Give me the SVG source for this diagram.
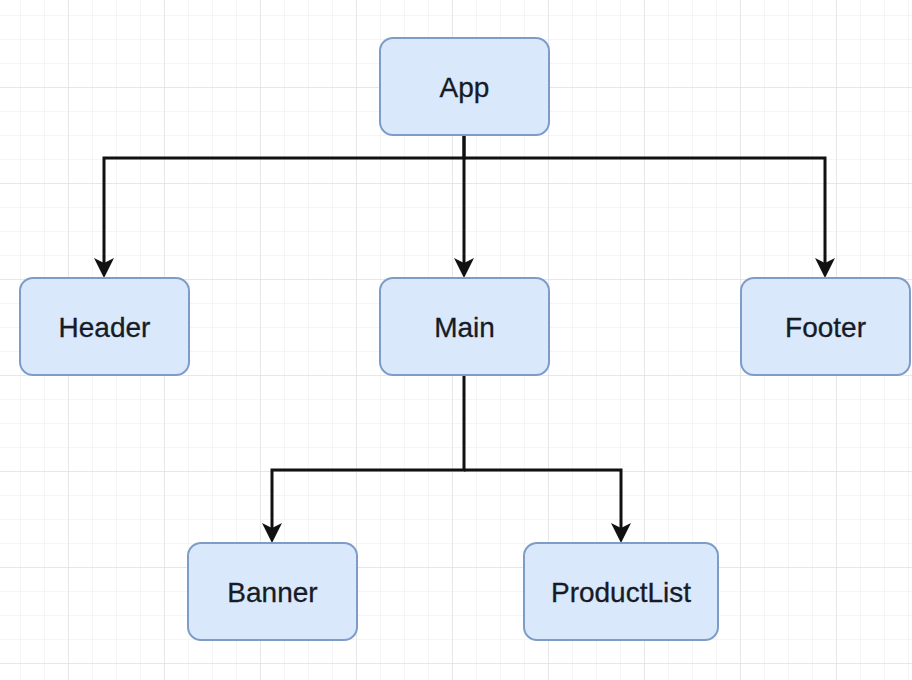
<svg xmlns="http://www.w3.org/2000/svg" width="912" height="680" viewBox="0 0 912 680">
  <defs>
    <pattern id="minor" x="20" y="15" width="24" height="24" patternUnits="userSpaceOnUse">
      <path d="M0,0 V24 M0,0 H24" fill="none" stroke="#f2f2f2" stroke-width="1.5"/>
    </pattern>
    <pattern id="major" x="68" y="87" width="96" height="96" patternUnits="userSpaceOnUse">
      <path d="M0,0 V96 M0,0 H96" fill="none" stroke="#e2e2e2" stroke-width="1.5"/>
    </pattern>
    <marker id="arrow" viewBox="0 0 20 20" markerWidth="20" markerHeight="20" markerUnits="userSpaceOnUse" refX="5" refY="10" orient="auto">
      <path d="M0,0 L20,10 L0,20 L5,10 z" fill="#111"/>
    </marker>
  </defs>
  <style>
    .box { fill: #dae8fc; stroke: #7e9cc8; stroke-width: 2; }
    .label { font-family: "Liberation Sans", Arial, sans-serif; font-size: 28px; fill: #161b26; stroke: #161b26; stroke-width: 0.3; text-anchor: middle; }
    .edge { fill: none; stroke: #111; stroke-width: 3; }
  </style>
  <rect width="912" height="680" fill="#ffffff"/>
  <rect width="912" height="680" fill="url(#minor)"/>
  <rect width="912" height="680" fill="url(#major)"/>

  <g id="connectors">
    <path class="edge" d="M464,136 V158 H104 V263" marker-end="url(#arrow)"/>
    <path class="edge" d="M464,136 V263" marker-end="url(#arrow)"/>
    <path class="edge" d="M464,158 H825 V263" marker-end="url(#arrow)"/>
    <path class="edge" d="M464,375 V470 H272 V528" marker-end="url(#arrow)"/>
    <path class="edge" d="M464,470 H621 V528" marker-end="url(#arrow)"/>
  </g>

  <g id="app">
    <rect class="box" x="380" y="38" width="169" height="97" rx="13"/>
    <text class="label" x="464.5" y="97">App</text>
  </g>
  <g id="header">
    <rect class="box" x="20" y="278" width="169" height="97" rx="13"/>
    <text class="label" x="104.5" y="337">Header</text>
  </g>
  <g id="main">
    <rect class="box" x="380" y="278" width="169" height="97" rx="13"/>
    <text class="label" x="464.5" y="337">Main</text>
  </g>
  <g id="footer">
    <rect class="box" x="741" y="278" width="169" height="97" rx="13"/>
    <text class="label" x="825.5" y="337">Footer</text>
  </g>
  <g id="banner">
    <rect class="box" x="188" y="543" width="169" height="97" rx="13"/>
    <text class="label" x="272.5" y="602">Banner</text>
  </g>
  <g id="productlist">
    <rect class="box" x="524" y="543" width="194" height="97" rx="13"/>
    <text class="label" x="621" y="602">ProductList</text>
  </g>
</svg>
